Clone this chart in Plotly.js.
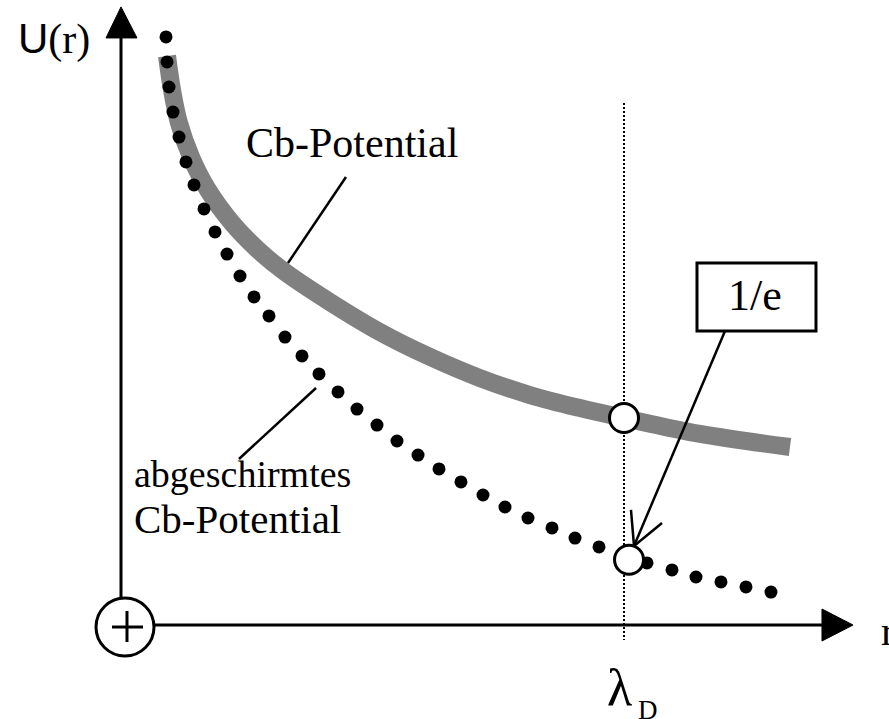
<!DOCTYPE html>
<html>
<head>
<meta charset="utf-8">
<script src="https://cdn.plot.ly/plotly-3.0.1.min.js"></script>
<style>html,body{margin:0;padding:0;background:#fff;}#chart{width:889px;height:719px;}</style>
</head>
<body>
<div id="chart"></div>
<script>
// r in units of the Debye length (lambda_D = 1), U in units of U_Cb(lambda_D)
const cbR = [0.0915,0.1014,0.1153,0.1392,0.1730,0.2207,0.2724,0.3260,0.4155,0.5149,0.6143,0.7137,0.8131,0.9125,1.0000,1.1511,1.3300];
const cbU = [2.749,2.585,2.425,2.261,2.101,1.942,1.812,1.705,1.560,1.415,1.295,1.193,1.111,1.048,1.000,0.923,0.860];

const scrR = [0.0895,0.0915,0.0954,0.1034,0.1153,0.1292,0.1451,0.1650,0.1869,0.2107,0.2366,0.2644,0.2942,0.3260,0.3598,0.3936,0.4314,0.4692,0.5089,0.5487,0.5905,0.6322,0.6759,0.7197,0.7634,0.8091,0.8569,0.9026,0.9503,1.0000,1.0457,1.0954,1.1431,1.1928,1.2425,1.2922];
const scrU = [2.841,2.720,2.599,2.478,2.357,2.237,2.126,2.010,1.899,1.792,1.686,1.585,1.493,1.391,1.300,1.213,1.126,1.043,0.966,0.889,0.821,0.754,0.691,0.628,0.570,0.517,0.469,0.420,0.377,0.333,0.300,0.266,0.232,0.208,0.184,0.159];

const markR = [1.000, 1.010];
const markU = [1.000, 0.315];

const lambdaD = 1.0;

const labelTop = 'Cb-Potential';
const labelLow1 = 'abgeschirmtes';
const labelLow2 = 'Cb-Potential';
const labelBox = '1/e';
const labelY = '<span style="font-family:\'Liberation Sans Narrow\',\'Liberation Sans\',Arial,sans-serif">U</span>(r)';
const labelX = 'r';
const labelLambda = 'λ';
const labelLambdaSub = 'D';

const serif = "'Liberation Serif','Times New Roman',Times,serif";

const traces = [
  {x: cbR, y: cbU, mode: 'lines', line: {color: '#808080', width: 18, shape: 'spline', smoothing: 1}, hoverinfo: 'skip'},
  {x: scrR, y: scrU, mode: 'markers', marker: {color: '#000', size: 13}, hoverinfo: 'skip'},
  {x: markR, y: markU, mode: 'markers', marker: {color: '#fff', size: 29, line: {color: '#000', width: 3}}, hoverinfo: 'skip'}
];

const blk = {color: '#000', width: 3};
const shapes = [
  // vertical dotted line at lambda_D
  {type: 'line', layer: 'below', x0: lambdaD, x1: lambdaD, y0: 2.522, y1: -0.072, line: {color: '#000', width: 2, dash: '2px,2px'}},
  // U axis
  {type: 'line', x0: 0, x1: 0, y0: 2.836, y1: 0.130, line: blk},
  {type: 'path', path: 'M -0.0298,2.836 L 0.0318,2.836 L 0,2.986 Z', fillcolor: '#000', line: {color: '#000', width: 1}},
  // r axis
  {type: 'line', x0: 0.0656, x1: 1.3936, y0: 0, y1: 0, line: blk},
  {type: 'path', path: 'M 1.3936,0.0773 L 1.3936,-0.0773 L 1.4553,0 Z', fillcolor: '#000', line: {color: '#000', width: 1}},
  // charge symbol
  {type: 'circle', x0: -0.0497, x1: 0.0656, y0: -0.1498, y1: 0.1304, fillcolor: '#fff', line: blk},
  {type: 'line', x0: -0.0179, x1: 0.0437, y0: -0.0097, y1: -0.0097, line: blk},
  {type: 'line', x0: 0.0119, x1: 0.0119, y0: 0.0676, y1: -0.0821, line: blk},
  // leader lines
  {type: 'line', x0: 0.4473, y0: 2.164, x1: 0.3320, y1: 1.749, line: {color: '#000', width: 2.5}},
  {type: 'line', x0: 0.3877, y0: 1.145, x1: 0.2346, y1: 0.802, line: {color: '#000', width: 2.5}},
  // 1/e box and arrow
  {type: 'rect', x0: 1.1451, x1: 1.3817, y0: 1.4203, y1: 1.7488, fillcolor: '#fff', line: blk},
  {type: 'line', x0: 1.2008, y0: 1.420, x1: 1.0199, y1: 0.382, line: {color: '#000', width: 2.5}},
  {type: 'line', x0: 1.0199, y0: 0.382, x1: 1.0139, y1: 0.556, line: {color: '#000', width: 2.5}},
  {type: 'line', x0: 1.0199, y0: 0.382, x1: 1.0755, y1: 0.493, line: {color: '#000', width: 2.5}}
];

const ann = (text, x, y, size, xanchor) => ({
  text: text, x: x, y: y, xref: 'x', yref: 'y', showarrow: false,
  xanchor: xanchor || 'left', yanchor: 'middle', borderpad: 0,
  font: {family: serif, size: size, color: '#000'}
});

const annotations = [
  ann(labelTop, 0.2465, 2.3285, 42),
  ann(labelLow1, 0.0239, 0.7295, 38),
  ann(labelLow2, 0.0239, 0.512, 41),
  ann(labelBox, 1.2604, 1.594, 44, 'center'),
  ann(labelY, -0.2068, 2.829, 42),
  ann(labelX, 1.5090, -0.030, 42),
  ann(labelLambda, 0.964, -0.302, 52),
  ann(labelLambdaSub, 1.0258, -0.412, 27)
];

const layout = {
  width: 889, height: 719,
  margin: {l: 0, r: 0, t: 0, b: 0, pad: 0},
  paper_bgcolor: '#fff', plot_bgcolor: '#fff',
  showlegend: false,
  xaxis: {range: [-0.24056, 1.52684], visible: false, fixedrange: true},
  yaxis: {range: [-0.45411, 3.01932], visible: false, fixedrange: true},
  shapes: shapes,
  annotations: annotations
};

Plotly.newPlot('chart', traces, layout, {staticPlot: true, displayModeBar: false});
</script>
</body>
</html>
